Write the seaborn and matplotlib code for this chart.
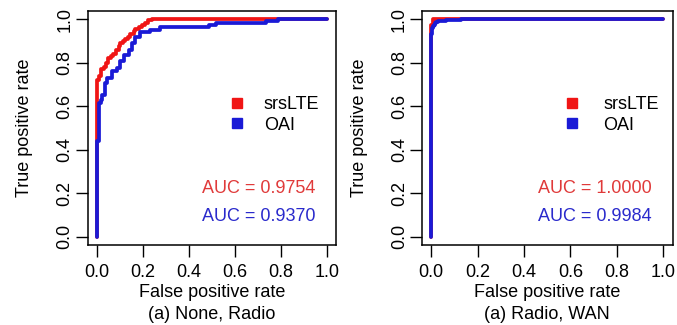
import numpy as np
import pandas as pd
import matplotlib
matplotlib.use("Agg")
import matplotlib.pyplot as plt
from matplotlib.lines import Line2D
import seaborn as sns

# ---- data ----
tools = ["srsLTE", "OAI"]

left_srs_fpr = [0, 0, 0.003, 0.008, 0.017, 0.03, 0.04, 0.05, 0.06, 0.07, 0.082, 0.095, 0.103,
                0.115, 0.125, 0.135, 0.146, 0.16, 0.168, 0.185, 0.197, 0.21, 0.225, 0.24, 1.0]
left_srs_tpr = [0, 0.46, 0.72, 0.74, 0.77, 0.78, 0.80, 0.82, 0.83, 0.84, 0.86, 0.875, 0.89,
                0.90, 0.91, 0.92, 0.93, 0.945, 0.955, 0.965, 0.975, 0.985, 0.995, 1.0, 1.0]
left_oai_fpr = [0, 0, 0.01, 0.018, 0.024, 0.035, 0.046, 0.067, 0.089, 0.103, 0.118, 0.139,
                0.154, 0.168, 0.189, 0.232, 0.275, 0.49, 0.52, 0.735, 0.79, 1.0]
left_oai_tpr = [0, 0.44, 0.615, 0.63, 0.653, 0.707, 0.73, 0.76, 0.775, 0.806, 0.837, 0.86,
                0.89, 0.92, 0.943, 0.951, 0.966, 0.974, 0.985, 0.994, 1.0, 1.0]

right_srs_fpr = [0, 0, 0.006, 1.0]
right_srs_tpr = [0, 0.975, 1.0, 1.0]
right_oai_fpr = [0, 0, 0.002, 0.004, 0.007, 0.01, 0.015, 0.02, 0.03, 0.045, 0.065, 0.09, 0.13, 1.0]
right_oai_tpr = [0, 0.93, 0.945, 0.958, 0.967, 0.975, 0.982, 0.987, 0.991, 0.994, 0.997, 0.999, 1.0, 1.0]

left_auc = ["0.9754", "0.9370"]
right_auc = ["1.0000", "0.9984"]
subtitles = ["(a) None, Radio", "(a) Radio, WAN"]
ticks = [0.0, 0.2, 0.4, 0.6, 0.8, 1.0]
tick_labels = ["0.0", "0.2", "0.4", "0.6", "0.8", "1.0"]

colors = {"srsLTE": "#f01515", "OAI": "#1a1ad6"}
text_colors = {"srsLTE": "#e03a3a", "OAI": "#2a2acc"}

def make_df(srs_x, srs_y, oai_x, oai_y):
    return pd.concat([
        pd.DataFrame({"fpr": srs_x, "tpr": srs_y, "tool": "srsLTE"}),
        pd.DataFrame({"fpr": oai_x, "tpr": oai_y, "tool": "OAI"}),
    ], ignore_index=True)

panels = [
    (make_df(left_srs_fpr, left_srs_tpr, left_oai_fpr, left_oai_tpr), left_auc, subtitles[0]),
    (make_df(right_srs_fpr, right_srs_tpr, right_oai_fpr, right_oai_tpr), right_auc, subtitles[1]),
]

sns.set_theme(style="white")
plt.rcParams["font.family"] = ["Liberation Sans", "DejaVu Sans"]
plt.rcParams["text.color"] = "black"
plt.rcParams["axes.labelcolor"] = "black"
plt.rcParams["xtick.color"] = "black"
plt.rcParams["ytick.color"] = "black"
FS = 13

W, H = 677, 325
fig = plt.figure(figsize=(W / 100, H / 100), dpi=100)

# axes boxes in pixels: (left, top, right, bottom)
boxes = [(87.5, 10.6, 336.0, 245.2), (422.0, 10.6, 672.5, 245.2)]
leg_anchor = [0.571, 0.569]
leg_pad = [1.1, 1.35]

for i, ((df, aucs, sub), (l, t, r, b)) in enumerate(zip(panels, boxes)):
    ax = fig.add_axes([l / W, (H - b) / H, (r - l) / W, (b - t) / H])
    sns.lineplot(data=df, x="fpr", y="tpr", hue="tool", hue_order=tools,
                 palette=colors, sort=False, estimator=None, legend=False,
                 drawstyle="steps-post", linewidth=2.7, ax=ax)
    ax.set_xlim(-0.04, 1.04)
    ax.set_ylim(-0.04, 1.04)
    ax.set_xticks(ticks)
    ax.set_xticklabels(tick_labels)
    ax.set_yticks(ticks)
    ax.set_yticklabels(tick_labels, rotation=90, va="center")
    ax.tick_params(axis="both", direction="out", length=8.5, width=1.0,
                   colors="black", labelsize=FS, bottom=True, left=True)
    ax.tick_params(axis="x", pad=5)
    ax.tick_params(axis="y", pad=1.5)
    for s in ax.spines.values():
        s.set_color("black")
        s.set_linewidth(1.1)
    ax.set_xlabel("False positive rate\n" + sub, fontsize=FS, labelpad=2.5,
                  linespacing=1.35, color="black")
    ax.set_ylabel("True positive rate", fontsize=FS, labelpad=17, color="black")

    handles = [Line2D([], [], marker="s", linestyle="", markersize=6.5,
                      color=colors[tl]) for tl in tools]
    leg = ax.legend(handles, tools, loc="center left", bbox_to_anchor=(leg_anchor[i], 0.555),
                    frameon=False, fontsize=FS, handlelength=0.8, handletextpad=leg_pad[i],
                    borderpad=0, borderaxespad=0, labelspacing=0.2)
    for txt in leg.get_texts():
        txt.set_color("black")

    ax.text(0.95, 0.223, "AUC = " + aucs[0], color=text_colors["srsLTE"], fontsize=FS,
            ha="right", va="center")
    ax.text(0.95, 0.090, "AUC = " + aucs[1], color=text_colors["OAI"], fontsize=FS,
            ha="right", va="center")

fig.savefig("out.png", dpi=100)
